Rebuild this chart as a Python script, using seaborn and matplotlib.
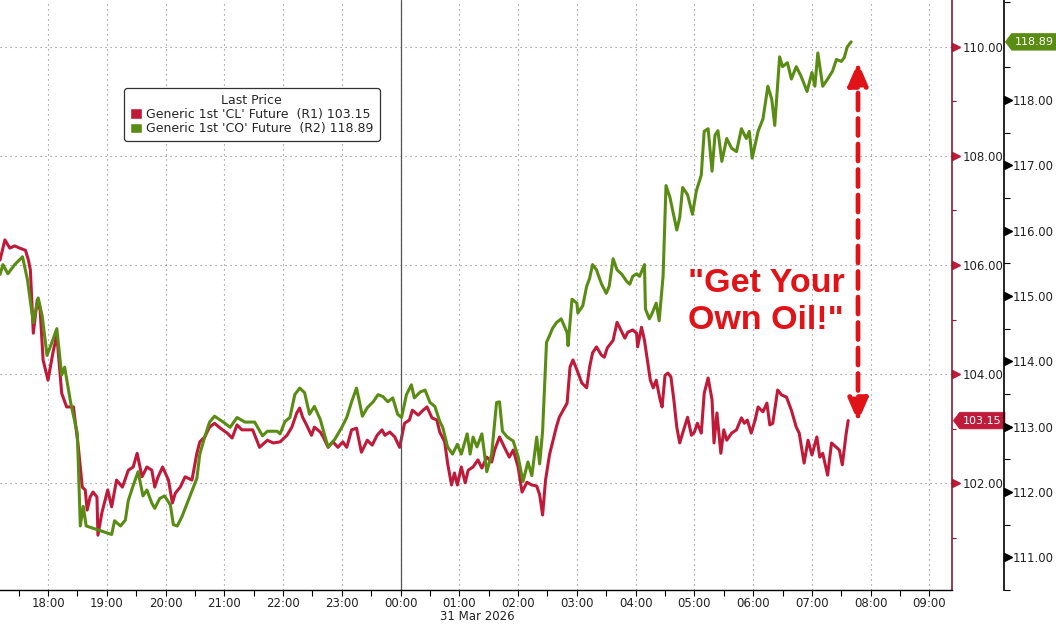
import numpy as np
import pandas as pd
import matplotlib
matplotlib.use("Agg")
import matplotlib.pyplot as plt
import matplotlib.dates as mdates
import matplotlib.transforms as mtransforms
from matplotlib.patches import Patch
from matplotlib.path import Path
from matplotlib.ticker import FormatStrFormatter
import seaborn as sns

# minutes relative to 31 Mar 2026 00:00, and last price
cl_minutes = [
    -409, -404, -399, -394, -389, -383, -380, -378, -375, -371,
    -368, -365, -360, -355, -351, -346, -341, -334, -329, -325,
    -322, -320, -317, -314, -310, -309, -305, -299, -295, -290,
    -284, -278, -273, -269, -264, -259, -254, -251, -248, -243,
    -237, -233, -230, -225, -220, -213, -208, -205, -200, -195,
    -190, -184, -177, -172, -167, -162, -157, -151, -144, -136,
    -130, -123, -116, -111, -106, -103, -100, -96, -91, -88,
    -82, -79, -74, -69, -64, -59, -55, -50, -45, -40,
    -34, -29, -24, -19, -16, -11, -6, -1, 4, 9,
    12, 18, 23, 27, 32, 37, 40, 45, 48, 52,
    55, 58, 62, 66, 69, 74, 79, 83, 88, 93,
    96, 101, 106, 111, 115, 120, 124, 129, 134, 139,
    142, 145, 148, 152, 155, 159, 162, 166, 170, 173,
    176, 180, 185, 190, 193, 196, 200, 205, 208, 211,
    217, 221, 224, 229, 232, 237, 241, 242, 246, 249,
    252, 255, 258, 261, 265, 267, 270, 273, 276, 279,
    282, 285, 288, 293, 297, 300, 303, 307, 310, 314,
    318, 320, 323, 327, 330, 333, 338, 343, 348, 351,
    354, 358, 362, 365, 370, 374, 377, 380, 385, 389,
    394, 399, 404, 407, 412, 416, 420, 425, 428, 431,
    436, 440, 445, 448, 451, 455, 457,
]
cl_values = [
    106.09, 106.46, 106.31, 106.35, 106.31, 106.27, 106.09, 105.91, 104.75, 105.36,
    105.17, 104.26, 103.89, 104.39, 104.72, 103.65, 103.40, 103.40, 102.66, 101.93,
    101.88, 101.51, 101.75, 101.84, 101.75, 101.05, 101.46, 101.88, 101.57, 102.06,
    101.93, 102.24, 102.30, 102.55, 102.12, 102.30, 102.24, 101.93, 102.10, 102.30,
    102.06, 101.64, 101.82, 101.93, 102.12, 102.06, 102.55, 102.76, 102.85, 103.03,
    103.10, 103.01, 102.92, 102.83, 103.07, 102.98, 102.98, 102.98, 102.66, 102.79,
    102.74, 102.76, 102.88, 103.03, 103.29, 103.38, 103.21, 103.07, 102.88, 103.03,
    102.94, 102.85, 102.66, 102.76, 102.66, 102.76, 102.66, 102.98, 103.01, 102.57,
    102.79, 102.70, 102.88, 102.98, 102.88, 102.94, 102.85, 102.66, 103.10, 103.16,
    103.34, 103.25, 103.34, 103.40, 103.20, 103.16, 102.94, 102.76, 102.37, 101.97,
    102.19, 101.97, 102.30, 102.01, 102.24, 102.30, 102.43, 102.28, 102.48, 102.39,
    102.61, 102.85, 102.66, 102.48, 102.61, 102.30, 101.84, 102.02, 101.97, 101.95,
    101.79, 101.42, 102.06, 102.52, 102.74, 103.03, 103.21, 103.34, 103.47, 104.13,
    104.26, 104.08, 103.84, 103.75, 104.13, 104.39, 104.50, 104.35, 104.31, 104.48,
    104.62, 104.95, 104.84, 104.66, 104.77, 104.81, 104.75, 104.50, 104.86, 104.62,
    104.26, 103.89, 103.75, 103.89, 103.53, 103.40, 103.98, 104.02, 103.95, 103.53,
    103.03, 102.74, 102.92, 103.21, 102.88, 102.94, 103.10, 102.92, 103.65, 103.93,
    103.53, 102.74, 103.29, 102.55, 102.98, 102.79, 102.92, 102.98, 103.20, 103.10,
    103.16, 102.92, 103.16, 103.40, 103.31, 103.47, 103.07, 103.10, 103.71, 103.62,
    103.58, 103.34, 103.03, 102.92, 102.37, 102.79, 102.52, 102.85, 102.48, 102.55,
    102.15, 102.74, 102.66, 102.61, 102.34, 102.92, 103.15,
]

co_minutes = [
    -409, -406, -401, -394, -386, -381, -375, -370, -366, -361,
    -356, -351, -346, -343, -337, -330, -327, -324, -321, -295,
    -292, -286, -281, -278, -273, -268, -263, -259, -254, -251,
    -246, -241, -235, -232, -228, -223, -215, -208, -205, -200,
    -195, -190, -181, -174, -167, -159, -149, -141, -136, -126,
    -123, -118, -113, -108, -103, -98, -93, -88, -82, -77,
    -74, -67, -60, -55, -50, -45, -42, -39, -34, -28,
    -23, -18, -13, -8, -3, 1, 6, 11, 14, 20,
    25, 30, 35, 40, 43, 48, 53, 58, 62, 68,
    71, 74, 78, 83, 88, 93, 98, 101, 104, 109,
    115, 120, 125, 130, 134, 139, 142, 145, 149, 152,
    155, 159, 164, 170, 171, 175, 180, 181, 186, 190,
    193, 196, 200, 205, 210, 213, 217, 221, 226, 231,
    234, 237, 241, 244, 249, 250, 254, 257, 261, 264,
    268, 271, 275, 282, 285, 288, 293, 298, 302, 307,
    310, 314, 318, 321, 324, 328, 333, 338, 343, 348,
    353, 356, 359, 365, 370, 375, 379, 382, 387, 390,
    395, 399, 404, 409, 415, 420, 423, 426, 431, 436,
    441, 445, 450, 453, 456, 460,
]
co_values = [
    115.33, 115.48, 115.34, 115.48, 115.60, 115.25, 114.59, 114.97, 114.70, 114.09,
    114.29, 114.50, 113.79, 113.91, 113.38, 112.89, 111.48, 111.78, 111.48, 111.35,
    111.56, 111.48, 111.57, 111.87, 112.10, 112.31, 111.94, 112.03, 111.83, 111.75,
    111.90, 111.94, 111.80, 111.50, 111.48, 111.63, 111.94, 112.21, 112.58, 112.84,
    113.07, 113.16, 113.07, 112.99, 113.14, 113.07, 113.07, 112.86, 112.93, 112.93,
    112.89, 113.08, 113.14, 113.49, 113.59, 113.52, 113.19, 113.31, 113.11, 112.84,
    112.69, 112.81, 112.99, 113.14, 113.38, 113.59, 113.38, 113.16, 113.29, 113.38,
    113.49, 113.46, 113.38, 113.44, 113.19, 113.14, 113.49, 113.64, 113.44, 113.53,
    113.56, 113.37, 113.31, 113.08, 112.99, 112.69, 112.58, 112.73, 112.58, 112.89,
    112.58, 112.84, 112.69, 112.89, 112.31, 112.58, 113.37, 113.38, 112.93, 112.84,
    112.78, 112.54, 112.16, 112.46, 112.25, 112.84, 112.43, 112.93, 114.29, 114.39,
    114.50, 114.59, 114.65, 114.44, 114.24, 114.95, 114.89, 114.74, 114.85, 115.15,
    115.27, 115.48, 115.40, 115.19, 115.04, 115.15, 115.57, 115.40, 115.33, 115.22,
    115.18, 115.30, 115.34, 115.30, 115.48, 114.80, 114.65, 114.74, 114.89, 114.62,
    115.30, 116.69, 116.51, 116.01, 116.20, 116.66, 116.55, 116.25, 116.61, 116.85,
    117.52, 117.56, 116.91, 117.46, 117.53, 117.06, 117.41, 117.26, 117.21, 117.56,
    117.41, 117.52, 117.11, 117.52, 117.71, 118.21, 118.01, 117.61, 118.66, 118.51,
    118.57, 118.32, 118.51, 118.36, 118.13, 118.42, 118.21, 118.72, 118.21, 118.32,
    118.44, 118.62, 118.59, 118.65, 118.81, 118.89,
]

cl_label = "Generic 1st 'CL' Future  (R1) 103.15"
co_label = "Generic 1st 'CO' Future  (R2) 118.89"
legend_title = "Last Price"
note_text = '"Get Your\nOwn Oil!"'
date_label = "31 Mar 2026"
cl_ticks = [102, 104, 106, 108, 110]
cl_minor = [101, 103, 105, 107, 109]
co_ticks = [111, 112, 113, 114, 115, 116, 117, 118]

RED = "#c01a3a"
GREEN = "#5a8c14"
NOTE_RED = "#e01418"

base = pd.Timestamp("2026-03-31")
cl = pd.DataFrame({"time": base + pd.to_timedelta(cl_minutes, unit="min"), "price": cl_values})
co = pd.DataFrame({"time": base + pd.to_timedelta(co_minutes, unit="min"), "price": co_values})

sns.set_theme(style="white")
plt.rcParams["font.family"] = ["DejaVu Sans"]

W, H = 1056, 624
fig = plt.figure(figsize=(W / 100, H / 100), dpi=100)
ax = fig.add_axes([0, 34 / H, 952 / W, 590 / H])
ax2 = ax.twinx()

ax.set_axisbelow(True)
sns.lineplot(data=cl, x="time", y="price", ax=ax, color=RED, lw=2.2,
             estimator=None, sort=False)
sns.lineplot(data=co, x="time", y="price", ax=ax2, color=GREEN, lw=2.2,
             estimator=None, sort=False)
for a in (ax, ax2):
    a.set_xlabel("")
    a.set_ylabel("")

ax.set_xlim(base + pd.Timedelta(minutes=-409), base + pd.Timedelta(minutes=563))
ax.set_ylim(100.046, 110.855)
ax2.set_ylim(110.62, 119.53)

# x axis
ax.xaxis.set_major_locator(mdates.HourLocator())
ax.xaxis.set_major_formatter(mdates.DateFormatter("%H:%M"))
ax.xaxis.set_minor_locator(mdates.MinuteLocator(byminute=[30]))
ax.tick_params(axis="x", which="both", direction="out", length=4, width=0.8,
               color="black", labelsize=8.5, labelcolor="#222", pad=0.8, bottom=True)
ax.axvline(base, color="#555", lw=0.9)

# grid
ax.grid(True, which="major", linestyle=(0, (1, 3.5)), color="#808080", lw=0.8)

# spines
for s in ("top", "left"):
    ax.spines[s].set_visible(False)
ax.spines["bottom"].set_color("black")
ax.spines["bottom"].set_linewidth(1.0)
ax.spines["right"].set_color("#8b1c2c")
ax.spines["right"].set_linewidth(1.2)
for s in ("top", "left", "bottom"):
    ax2.spines[s].set_visible(False)
ax2.spines["right"].set_position(("outward", 52 * 0.72))
ax2.spines["right"].set_color("black")
ax2.spines["right"].set_linewidth(1.2)

# left series (R1) axis drawn on the right
ax.yaxis.tick_right()
ax.set_yticks(cl_ticks)
ax.set_yticks(cl_minor, minor=True)
ax.yaxis.set_major_formatter(FormatStrFormatter("%.2f"))
ax.tick_params(axis="y", which="major", length=0, pad=7.5, labelsize=8.5,
               labelcolor="#222", right=True, left=False)
ax.tick_params(axis="y", which="minor", length=3, width=0.8, color="#8b1c2c",
               right=True, left=False)

ax2.set_yticks(co_ticks)
ax2.set_yticks(np.arange(110.5, 119.6, 1.0), minor=True)
ax2.yaxis.set_major_formatter(FormatStrFormatter("%.2f"))
ax2.tick_params(axis="y", which="major", length=0, pad=6.5, labelsize=8.5,
                labelcolor="#222")
ax2.tick_params(axis="y", which="minor", length=4, width=0.8, color="black")

# triangle tick markers
tr1 = mtransforms.offset_copy(
    mtransforms.blended_transform_factory(ax.transAxes, ax.transData),
    fig=fig, x=4, y=0, units="dots")
ax.plot([1] * len(cl_ticks), cl_ticks, ls="none", marker=">", ms=5.5,
        color="#c01a3a", transform=tr1, clip_on=False)
tr2 = mtransforms.offset_copy(
    mtransforms.blended_transform_factory(ax2.transAxes, ax2.transData),
    fig=fig, x=56, y=0, units="dots")
ax2.plot([1] * len(co_ticks), co_ticks, ls="none", marker=">", ms=5.5,
         color="black", transform=tr2, clip_on=False)


def tag_box(x0, y0, width, height, mutation_size):
    pad = 0.3 * mutation_size
    x0, y0 = x0 - pad, y0 - pad
    x1, y1 = x0 + width + 2 * pad, y0 + height + 2 * pad
    tip = 0.38 * (y1 - y0)
    return Path([(x0, y0), (x1, y0), (x1, y1), (x0, y1),
                 (x0 - tip, (y0 + y1) / 2), (x0, y0)], closed=True)


ax.annotate(f"{cl_values[-1]:.2f}", xy=(1, cl_values[-1]),
            xycoords=("axes fraction", "data"), xytext=(11, 0),
            textcoords="offset pixels", ha="left", va="center",
            fontsize=8, color="white", annotation_clip=False,
            bbox=dict(boxstyle=tag_box, fc=RED, ec=RED, lw=0.5))
ax2.annotate(f"{co_values[-1]:.2f}", xy=(1, co_values[-1]),
             xycoords=("axes fraction", "data"), xytext=(63, 0),
             textcoords="offset pixels", ha="left", va="center",
             fontsize=8, color="white", annotation_clip=False,
             bbox=dict(boxstyle=tag_box, fc=GREEN, ec=GREEN, lw=0.5))

# legend
handles = [Patch(facecolor=RED, label=cl_label), Patch(facecolor=GREEN, label=co_label)]
leg = ax2.legend(handles=handles, title=legend_title, loc="upper left",
                 bbox_to_anchor=(124 / 952, 1 - 88 / 590), borderaxespad=0,
                 frameon=True, fancybox=True, edgecolor="#333", facecolor="white",
                 framealpha=1, fontsize=9, title_fontsize=9,
                 handlelength=1.0, handleheight=0.9, handletextpad=0.35,
                 borderpad=0.45, labelspacing=0.1)
leg.get_frame().set_linewidth(0.9)

# annotation
ax2.text(766 / 952, 1 - 302 / 590, note_text, transform=ax2.transAxes,
         ha="center", va="center", fontsize=24.5, fontweight="bold",
         color=NOTE_RED, family=["Liberation Sans", "DejaVu Sans"], linespacing=1.22)
ax2.annotate("", xy=(858 / 952, 1 - 62 / 590), xytext=(858 / 952, 1 - 422 / 590),
             xycoords="axes fraction",
             arrowprops=dict(arrowstyle="<|-|>,head_length=0.7,head_width=0.3",
                             color=NOTE_RED, lw=3.4, linestyle=(0, (3.6, 1.8)),
                             mutation_scale=20, shrinkA=0, shrinkB=0))

fig.text(440 / W, 1 - 617 / H, date_label, ha="left", va="center",
         fontsize=8.5, color="#222")

fig.savefig("out.png", dpi=100)
